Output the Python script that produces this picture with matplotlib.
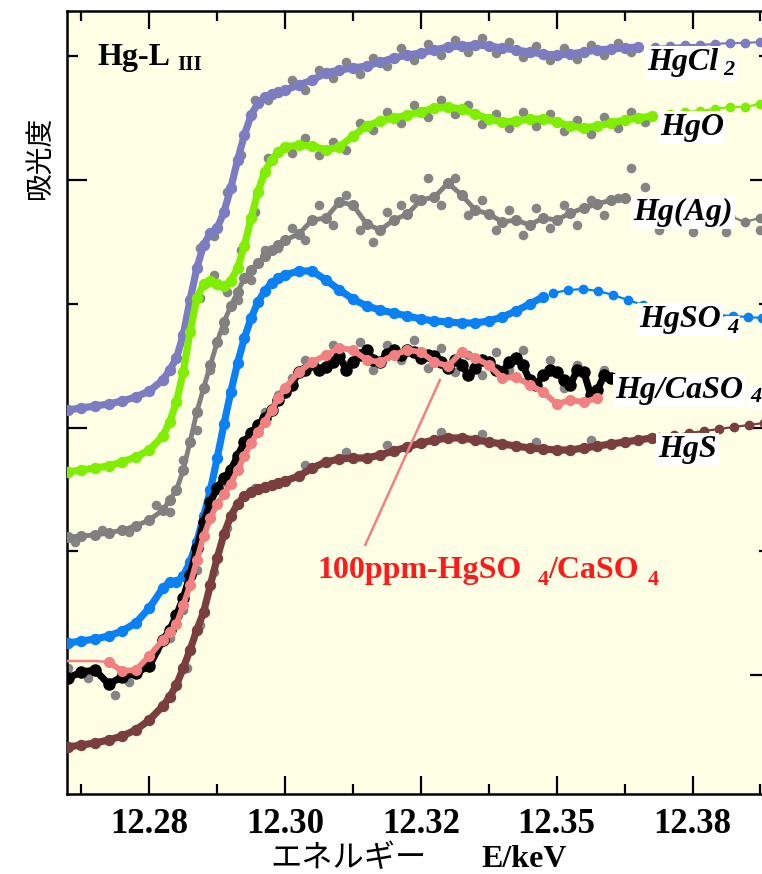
import matplotlib
matplotlib.use("Agg")
import matplotlib.pyplot as plt
from matplotlib.ticker import FixedLocator, FixedFormatter, NullFormatter

# ---------------- data ----------------
energy = [12.268, 12.270, 12.272, 12.274, 12.276, 12.278, 12.280, 12.282, 12.283, 12.284,
          12.285, 12.286, 12.287, 12.288, 12.289, 12.290, 12.291, 12.292, 12.293, 12.294,
          12.295, 12.296, 12.297, 12.298, 12.299, 12.300, 12.302, 12.304, 12.306, 12.308,
          12.310, 12.312, 12.314, 12.316, 12.318, 12.320, 12.322, 12.324, 12.326, 12.328,
          12.330, 12.332, 12.334, 12.336, 12.338, 12.340, 12.342, 12.344, 12.346, 12.348,
          12.350, 12.352, 12.354]

hgcl2 = [3.90, 3.92, 3.94, 3.96, 3.99, 4.03, 4.09, 4.20, 4.30, 4.42,
         4.65, 5.00, 5.32, 5.55, 5.67, 5.72, 5.88, 6.12, 6.40, 6.65,
         6.85, 6.97, 7.03, 7.06, 7.08, 7.10, 7.15, 7.20, 7.27, 7.30,
         7.32, 7.34, 7.38, 7.42, 7.45, 7.47, 7.50, 7.53, 7.54, 7.55,
         7.54, 7.52, 7.50, 7.48, 7.46, 7.45, 7.46, 7.48, 7.50, 7.51,
         7.52, 7.53]
hgcl2_tail_e = [12.3545, 12.3567, 12.3589, 12.3611, 12.3633, 12.3655, 12.3677, 12.3699, 12.3721]
hgcl2_tail = [7.53, 7.54, 7.55, 7.55, 7.56, 7.57, 7.57, 7.58, 7.59]

hgo = [3.28, 3.30, 3.32, 3.34, 3.38, 3.43, 3.50, 3.64, 3.78, 3.98,
       4.28, 4.68, 5.02, 5.16, 5.19, 5.16, 5.14, 5.19, 5.32, 5.54,
       5.82, 6.08, 6.28, 6.40, 6.48, 6.53, 6.55, 6.54, 6.50, 6.53,
       6.64, 6.74, 6.79, 6.82, 6.85, 6.88, 6.92, 6.93, 6.91, 6.86,
       6.81, 6.78, 6.79, 6.81, 6.81, 6.78, 6.74, 6.72, 6.74, 6.77,
       6.80, 6.82, 6.84]
hgo_tail_e = [12.3567, 12.3589, 12.3611, 12.3633, 12.3655, 12.3677, 12.3699, 12.3721]
hgo_tail = [6.86, 6.88, 6.89, 6.91, 6.93, 6.93, 6.96, 6.97]

hgag = [2.63, 2.64, 2.65, 2.67, 2.70, 2.74, 2.80, 2.90, 3.00, 3.10,
        3.30, 3.58, 3.88, 4.12, 4.35, 4.58, 4.78, 4.94, 5.08, 5.22,
        5.30, 5.37, 5.44, 5.50, 5.55, 5.60, 5.66, 5.80, 5.82, 5.98,
        5.95, 5.76, 5.70, 5.80, 5.86, 6.00, 6.03, 6.17, 6.05, 5.90,
        5.86, 5.78, 5.80, 5.75, 5.82, 5.80, 5.87, 5.92, 5.96, 6.00,
        6.02]
hgag_tail_e = [12.3655, 12.3677, 12.3699, 12.3721]
hgag_tail = [5.84, 5.78, 5.82, 5.84]

hgso4 = [1.57, 1.59, 1.61, 1.64, 1.69, 1.77, 1.92, 2.12, 2.18, 2.18,
         2.24, 2.38, 2.58, 2.84, 3.10, 3.42, 3.76, 4.08, 4.37, 4.62,
         4.82, 4.98, 5.09, 5.17, 5.22, 5.25, 5.29, 5.29, 5.20, 5.10,
         5.01, 4.94, 4.90, 4.87, 4.84, 4.81, 4.79, 4.78, 4.77, 4.77,
         4.79, 4.83, 4.89, 4.96, 5.03]
hgso4_tail_e = [12.3395, 12.3417, 12.3439, 12.3461, 12.3483, 12.3505, 12.3527, 12.3549,
                12.3571, 12.3593, 12.3615, 12.3637, 12.3659, 12.3681, 12.3703]
hgso4_tail = [5.07, 5.10, 5.11, 5.09, 5.05, 5.00, 4.95, 4.91, 4.88, 4.86, 4.85, 4.85, 4.84, 4.83, 4.82]

hgcaso4_e = [12.268, 12.270, 12.272, 12.274, 12.276, 12.278, 12.280, 12.282, 12.283, 12.284,
             12.285, 12.286, 12.287, 12.288, 12.289, 12.290, 12.291, 12.292, 12.293, 12.294,
             12.295, 12.296, 12.297, 12.298, 12.299, 12.300, 12.301, 12.302, 12.303, 12.304,
             12.305, 12.306, 12.307, 12.308, 12.309, 12.310, 12.311, 12.312, 12.313, 12.314,
             12.315, 12.316, 12.317, 12.318, 12.319, 12.320, 12.321, 12.322, 12.323, 12.324,
             12.325, 12.326, 12.327, 12.328, 12.329, 12.330, 12.331, 12.332, 12.333, 12.334,
             12.335, 12.336, 12.337, 12.338, 12.339, 12.340, 12.341, 12.342, 12.343, 12.344,
             12.345, 12.346, 12.347, 12.348]
hgcaso4 = [1.22, 1.28, 1.30, 1.16, 1.23, 1.27, 1.34, 1.60, 1.70, 1.85,
           2.02, 2.25, 2.52, 2.78, 2.98, 3.12, 3.22, 3.30, 3.44, 3.58,
           3.67, 3.75, 3.82, 3.90, 4.00, 4.08, 4.15, 4.28, 4.30, 4.36,
           4.30, 4.33, 4.38, 4.44, 4.30, 4.38, 4.45, 4.50, 4.40, 4.38,
           4.46, 4.50, 4.45, 4.50, 4.48, 4.42, 4.45, 4.44, 4.38, 4.32,
           4.40, 4.35, 4.25, 4.32, 4.40, 4.38, 4.30, 4.28, 4.38, 4.42,
           4.35, 4.20, 4.15, 4.25, 4.30, 4.28, 4.20, 4.15, 4.30, 4.28,
           4.05, 4.10, 4.25, 4.22]

ppm100 = [1.39, 1.39, 1.39, 1.38, 1.29, 1.30, 1.44, 1.60, 1.68, 1.76,
          1.95, 2.15, 2.40, 2.64, 2.82, 2.96, 3.06, 3.16, 3.30, 3.44,
          3.57, 3.68, 3.78, 3.90, 4.02, 4.12, 4.28, 4.38, 4.45, 4.52,
          4.50, 4.40, 4.38, 4.45, 4.50, 4.48, 4.38, 4.34, 4.48, 4.42,
          4.35, 4.22, 4.23, 4.15, 4.08, 3.96, 4.00, 3.98, 4.02]

hgs = [0.53, 0.55, 0.57, 0.60, 0.64, 0.70, 0.80, 0.94, 1.03, 1.15,
       1.32, 1.50, 1.70, 1.88, 2.15, 2.42, 2.66, 2.84, 2.96, 3.04,
       3.08, 3.11, 3.13, 3.15, 3.17, 3.19, 3.24, 3.32, 3.38, 3.41,
       3.42, 3.42, 3.45, 3.49, 3.53, 3.57, 3.60, 3.62, 3.62, 3.60,
       3.58, 3.56, 3.54, 3.52, 3.51, 3.50, 3.50, 3.52, 3.54, 3.56,
       3.58, 3.60, 3.62]
hgs_tail_e = [12.3551, 12.3573, 12.3595, 12.3617, 12.3639, 12.3661, 12.3683, 12.3705]
hgs_tail = [3.63, 3.65, 3.67, 3.69, 3.71, 3.73, 3.75, 3.77]

# raw (grey) measurement points
raw_cl_e = [12.2875, 12.2895, 12.2915, 12.2935, 12.2955, 12.2975, 12.3010, 12.3030, 12.3050,
            12.3070, 12.3090, 12.3110, 12.3130, 12.3150, 12.3170, 12.3190, 12.3210, 12.3230,
            12.3250, 12.3270, 12.3290, 12.3310, 12.3330, 12.3350, 12.3370, 12.3390, 12.3410,
            12.3430, 12.3450, 12.3470, 12.3490, 12.3510]
raw_cl = [5.52, 5.64, 6.08, 6.45, 7.00, 7.00, 7.20, 7.10, 7.30, 7.22, 7.38, 7.26, 7.42, 7.34,
          7.52, 7.40, 7.56, 7.45, 7.60, 7.48, 7.62, 7.47, 7.58, 7.43, 7.54, 7.40, 7.52, 7.41,
          7.55, 7.45, 7.57, 7.48]

raw_o_e = [12.2875, 12.2895, 12.2915, 12.2935, 12.2955, 12.2975, 12.3010, 12.3030, 12.3050,
           12.3070, 12.3090, 12.3110, 12.3130, 12.3150, 12.3170, 12.3190, 12.3210, 12.3230,
           12.3250, 12.3270, 12.3290, 12.3310, 12.3330, 12.3350, 12.3370, 12.3390, 12.3410,
           12.3430, 12.3450, 12.3470, 12.3490, 12.3510, 12.3530]
raw_o = [5.02, 5.25, 5.08, 5.50, 5.88, 6.42, 6.47, 6.62, 6.45, 6.58, 6.50, 6.77, 6.70, 6.88,
         6.77, 6.95, 6.83, 7.00, 6.86, 6.95, 6.76, 6.86, 6.72, 6.88, 6.74, 6.86, 6.69, 6.80,
         6.66, 6.83, 6.72, 6.88, 6.78]

raw_ag_e = [12.2690, 12.2730, 12.2770, 12.2810, 12.2830, 12.2850, 12.2870, 12.2890, 12.2910,
            12.2930, 12.2950, 12.2970, 12.2990, 12.3010, 12.3030, 12.3050, 12.3070, 12.3090,
            12.3110, 12.3130, 12.3150, 12.3170, 12.3190, 12.3210, 12.3230, 12.3250, 12.3270,
            12.3290, 12.3310, 12.3330, 12.3350, 12.3370, 12.3390, 12.3410, 12.3430, 12.3450,
            12.3470, 12.3490, 12.3510, 12.3530, 12.3550, 12.3600, 12.3650, 12.3700]
raw_ag = [2.58, 2.70, 2.68, 2.95, 2.88, 3.40, 3.70, 4.30, 4.70, 5.00, 5.20, 5.50, 5.52,
          5.72, 5.60, 5.95, 5.75, 6.05, 5.70, 5.58, 5.88, 5.95, 6.02, 6.22, 5.95, 6.22,
          5.85, 6.00, 5.70, 5.90, 5.65, 5.92, 5.72, 5.95, 5.75, 6.00, 5.85, 6.02, 6.32,
          6.13, 5.70, 5.68, 5.68, 5.70]

raw_ca_e = [12.2680, 12.2710, 12.2750, 12.2770, 12.2810, 12.2830, 12.2850, 12.2870, 12.2890,
            12.2910, 12.2930, 12.2950, 12.2970, 12.2990, 12.3010, 12.3030, 12.3050, 12.3070,
            12.3090, 12.3110, 12.3130, 12.3150, 12.3170, 12.3190, 12.3210, 12.3230, 12.3250,
            12.3270, 12.3290, 12.3310, 12.3330, 12.3350, 12.3370, 12.3390, 12.3410, 12.3430,
            12.3450, 12.3470, 12.3490]
raw_ca = [1.32, 1.22, 1.05, 1.18, 1.50, 1.62, 1.90, 2.30, 2.85, 3.18, 3.35, 3.65, 3.88,
          4.05, 4.22, 4.40, 4.30, 4.55, 4.35, 4.58, 4.30, 4.55, 4.40, 4.60, 4.32, 4.52,
          4.28, 4.45, 4.25, 4.48, 4.30, 4.50, 4.18, 4.40, 4.12, 4.35, 4.05, 4.30, 4.08]

raw_s_e = [12.2855, 12.2875, 12.2895, 12.2915, 12.2955, 12.3030, 12.3090, 12.3150, 12.3230,
           12.3290, 12.3370, 12.3450]
raw_s = [1.32, 1.75, 2.28, 2.72, 3.12, 3.35, 3.48, 3.55, 3.68, 3.66, 3.58, 3.60]

tick_values = [12.28, 12.30, 12.32, 12.34, 12.36]
tick_labels = ["12.28", "12.30", "12.32", "12.35", "12.38"]

# ---------------- figure ----------------
SERIF = "Liberation Serif"
fig = plt.figure(figsize=(7.62, 8.74), dpi=100)
ax = fig.add_axes([67 / 762, 80 / 874, 703 / 762, 783 / 874])
ax.set_facecolor("#FFFFE6")
ax.set_xlim(12.26788, 12.37141)
ax.set_ylim(0.06, 7.89)

GREY = "#858585"
for ex, ey in [(raw_cl_e, raw_cl), (raw_o_e, raw_o), (raw_ag_e, raw_ag),
               (raw_ca_e, raw_ca), (raw_s_e, raw_s)]:
    ax.scatter(ex, ey, s=48, color=GREY, lw=0, zorder=2)


def dense(x, y, c, z, lw=5.2, ms=7.2):
    ax.plot(x, y, "-", color=c, lw=lw, marker="o", ms=ms, mfc=c, mec=c,
            solid_capstyle="round", solid_joinstyle="round", zorder=z)


def sparse(x, y, c, z):
    ax.plot(x, y, "-", color=c, lw=1.6, marker="o", ms=6, mfc=c, mec=c, zorder=z)


C_CL, C_O, C_AG, C_SO4 = "#7C7CC2", "#80EE00", "#808080", "#0A80F5"
C_PINK, C_S = "#F28080", "#7A3E3E"

dense(energy[:len(hgcl2)], hgcl2, C_CL, 3)
sparse(hgcl2_tail_e, hgcl2_tail, C_CL, 3)
dense(energy[:len(hgo)], hgo, C_O, 3)
sparse(hgo_tail_e, hgo_tail, C_O, 3)
dense(energy[:len(hgag)], hgag, C_AG, 3, lw=3.5, ms=7)
sparse(hgag_tail_e, hgag_tail, C_AG, 3)
dense(energy[:len(hgso4)], hgso4, C_SO4, 3)
sparse(hgso4_tail_e, hgso4_tail, C_SO4, 3)
dense(hgcaso4_e, hgcaso4, "black", 4, lw=5, ms=8)
# 100ppm sample: thin line at the start, then markers
ax.plot(energy[:4], ppm100[:4], "-", color=C_PINK, lw=1.8, zorder=5)
dense(energy[3:len(ppm100)], ppm100[3:], C_PINK, 5, lw=4.2, ms=7)
dense(energy[:len(hgs)], hgs, C_S, 3)
sparse(hgs_tail_e, hgs_tail, C_S, 3)

# ---------------- labels ----------------
box = dict(facecolor="white", edgecolor="none", pad=1.5)
lab = dict(fontsize=23, fontweight="bold", fontstyle="italic", family=SERIF,
           ha="left", va="baseline", bbox=box, zorder=10)
sub = dict(fontsize=16, fontweight="bold", fontstyle="italic", family=SERIF,
           ha="left", va="baseline", bbox=box, zorder=10)
ax.text(12.3533, 7.30, "HgCl", **lab)
ax.text(12.3646, 7.25, "2", **sub)
ax.text(12.3552, 6.65, "HgO", **lab)
ax.text(12.3512, 5.80, "Hg(Ag)", **lab)
ax.text(12.3521, 4.73, "HgSO", **lab)
ax.text(12.3651, 4.67, "4", **sub)
ax.text(12.3486, 4.02, "Hg/CaSO", **lab)
ax.text(12.3685, 3.98, "4", **sub)
ax.text(12.3549, 3.43, "HgS", **lab)

ax.text(12.2723, 7.35, "Hg-L", fontsize=23, fontweight="bold", family=SERIF,
        ha="left", va="baseline", zorder=10)
ax.text(12.2841, 7.30, "III", fontsize=15, fontweight="bold", family=SERIF,
        ha="left", va="baseline", zorder=10)

RED = "#FF1A1A"
ax.plot([12.3228, 12.3118], [4.20, 2.55], color=C_PINK, lw=1.8, zorder=6)
ax.text(12.3047, 2.22, "100ppm-HgSO", fontsize=23, fontweight="bold", family=SERIF,
        color=RED, ha="left", va="baseline", zorder=10)
ax.text(12.3372, 2.15, "4", fontsize=16, fontweight="bold", family=SERIF,
        color=RED, ha="left", va="baseline", zorder=10)
ax.text(12.3387, 2.22, "/CaSO", fontsize=23, fontweight="bold", family=SERIF,
        color=RED, ha="left", va="baseline", zorder=10)
ax.text(12.3534, 2.15, "4", fontsize=16, fontweight="bold", family=SERIF,
        color=RED, ha="left", va="baseline", zorder=10)

# ---------------- axes styling ----------------
ax.xaxis.set_major_locator(FixedLocator(tick_values))
ax.xaxis.set_major_formatter(FixedFormatter(tick_labels))
ax.xaxis.set_minor_locator(FixedLocator([12.27, 12.29, 12.31, 12.33, 12.35, 12.37]))
ax.yaxis.set_major_locator(FixedLocator([1.25, 3.725, 6.20]))
ax.yaxis.set_minor_locator(FixedLocator([2.4875, 4.9625, 7.4375]))
ax.yaxis.set_major_formatter(NullFormatter())
ax.tick_params(which="both", direction="in", top=True, right=True, width=1.6, color="black")
ax.tick_params(axis="x", which="major", length=13, pad=10)
ax.tick_params(axis="x", which="minor", length=7.5)
ax.tick_params(axis="y", which="major", length=14.5)
ax.tick_params(axis="y", which="minor", length=8)
for lbl in ax.get_xticklabels():
    lbl.set_fontfamily(SERIF)
    lbl.set_fontweight("bold")
    lbl.set_fontsize(25)
for sp in ax.spines.values():
    sp.set_linewidth(1.8)

fig.text(40 / 762, 1 - 157 / 874, "吸光度", rotation=90, fontsize=20,
         family=["Noto Sans CJK JP", "DejaVu Sans"], ha="center", va="center")
fig.text(270 / 762, 1 - 867 / 874, "エネルギー", fontsize=22.5,
         family=["Noto Sans CJK JP", "DejaVu Sans"], ha="left", va="baseline")
fig.text(481 / 762, 1 - 867 / 874, "E/keV", fontsize=23, fontweight="bold",
         family=SERIF, ha="left", va="baseline")

fig.savefig("out.png", dpi=100)
